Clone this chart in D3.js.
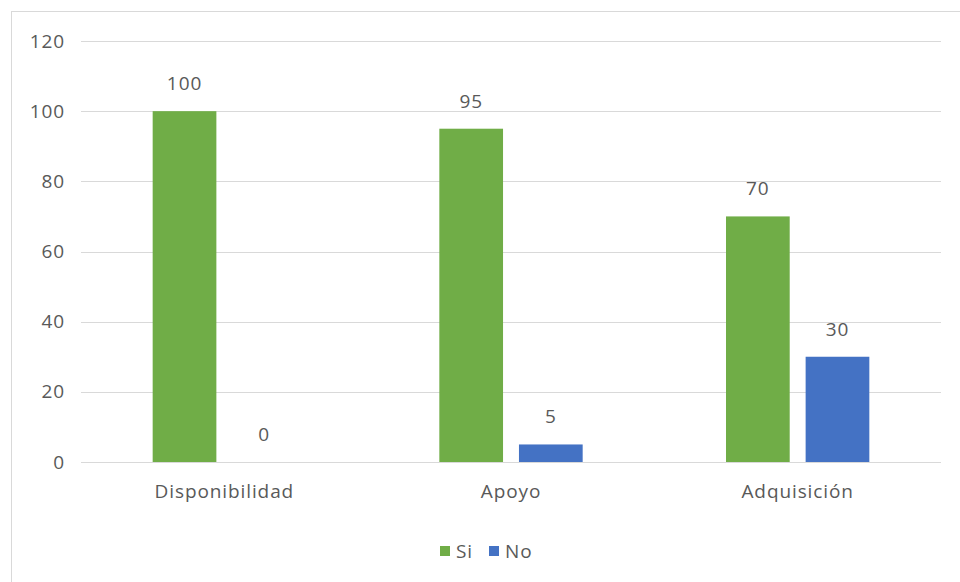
<!DOCTYPE html>
<html>
<head>
<meta charset="utf-8">
<script src="https://cdn.jsdelivr.net/npm/d3@7"></script>
<style>
  body { margin: 0; background: #fff; }
  svg text { font-family: "Open Sans", sans-serif; fill: #595959; font-size: 19px; letter-spacing: 0.9px; }
</style>
</head>
<body>
<div id="chart"></div>
<script>
var categories = ["Disponibilidad", "Apoyo", "Adquisición"];
var series = ["Si", "No"];
var siValues = [100, 95, 70];
var noValues = [0, 5, 30];
var yTicks = [0, 20, 40, 60, 80, 100, 120];
var colors = {"Si": "#70AD47", "No": "#4472C4"};

var data = categories.map(function(c, i) {
    return {cat: c, values: [{key: "Si", value: siValues[i]}, {key: "No", value: noValues[i]}]};
});

var W = 960, H = 582;
var margin = {top: 41, right: 19, bottom: 120, left: 81};
var width = W - margin.left - margin.right;
var height = H - margin.top - margin.bottom;

var svg = d3.select("#chart").append("svg")
    .attr("width", W)
    .attr("height", H);

// outer chart border (runs off the right and bottom edge)
svg.append("rect")
    .attr("x", 11.5).attr("y", 11.5)
    .attr("width", 1000).attr("height", 620)
    .attr("fill", "none")
    .attr("stroke", "#d9d9d9");

var g = svg.append("g")
    .attr("transform", "translate(" + margin.left + "," + margin.top + ")");

var y = d3.scaleLinear().domain([0, 120]).range([height, 0]);
var x0 = d3.scaleBand().domain(categories).range([0, width])
    .paddingInner(0.5).paddingOuter(0.25);
var x1 = d3.scaleBand().domain(series).range([0, x0.bandwidth()])
    .paddingInner(0.2);

// gridlines
g.selectAll(".grid")
    .data(yTicks)
    .enter().append("line")
    .attr("class", "grid")
    .attr("x1", 0).attr("x2", width)
    .attr("y1", function(d) { return Math.round(y(d)) + 0.5; })
    .attr("y2", function(d) { return Math.round(y(d)) + 0.5; })
    .attr("stroke", "#d9d9d9")
    .attr("stroke-width", 1);

// y axis labels
var yAxis = g.append("g")
    .call(d3.axisLeft(y).tickValues(yTicks).tickSize(0).tickPadding(16));
yAxis.select(".domain").remove();
yAxis.selectAll("text").attr("fill", "#595959").style("font-size", "19px");

// x axis labels
var xAxis = g.append("g")
    .attr("transform", "translate(0," + height + ")")
    .call(d3.axisBottom(x0).tickSize(0).tickPadding(23));
xAxis.select(".domain").remove();
xAxis.selectAll("text").attr("fill", "#595959").style("font-size", "19px");

var groups = g.selectAll(".group")
    .data(data)
    .enter().append("g")
    .attr("class", "group")
    .attr("transform", function(d) { return "translate(" + x0(d.cat) + ",0)"; });

groups.selectAll("rect")
    .data(function(d) { return d.values; })
    .enter().append("rect")
    .attr("x", function(d) { return x1(d.key); })
    .attr("y", function(d) { return y(d.value); })
    .attr("width", x1.bandwidth())
    .attr("height", function(d) { return height - y(d.value); })
    .attr("fill", function(d) { return colors[d.key]; });

groups.selectAll(".label")
    .data(function(d) { return d.values; })
    .enter().append("text")
    .attr("class", "label")
    .attr("x", function(d) { return x1(d.key) + x1.bandwidth() / 2; })
    .attr("y", function(d) { return y(d.value) - 21; })
    .attr("text-anchor", "middle")
    .text(function(d) { return d.value; });

// legend
var legend = svg.append("g").attr("transform", "translate(440,551)");
var items = [{key: "Si", x: 0}, {key: "No", x: 49}];
legend.selectAll("rect")
    .data(items)
    .enter().append("rect")
    .attr("x", function(d) { return d.x; })
    .attr("y", -5)
    .attr("width", 10).attr("height", 10)
    .attr("fill", function(d) { return colors[d.key]; });
legend.selectAll("text")
    .data(items)
    .enter().append("text")
    .attr("x", function(d) { return d.x + 16; })
    .attr("y", 0)
    .attr("dy", "0.35em")
    .text(function(d) { return d.key; });
</script>
</body>
</html>
